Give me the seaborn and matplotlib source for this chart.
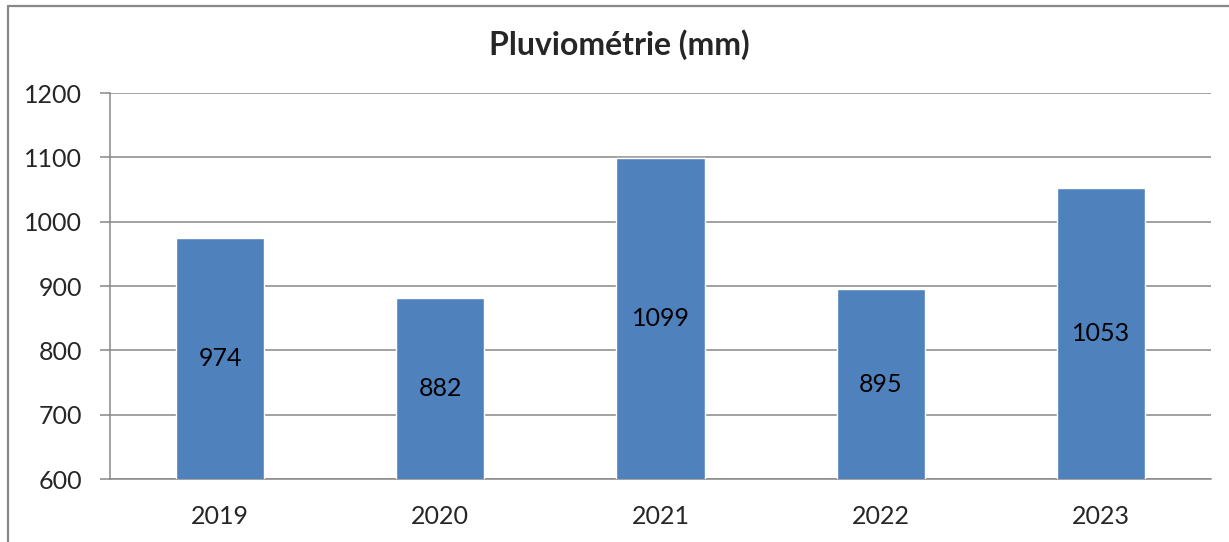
import matplotlib
matplotlib.use("Agg")
import matplotlib.pyplot as plt
import seaborn as sns
import pandas as pd
from matplotlib.lines import Line2D

years = ["2019", "2020", "2021", "2022", "2023"]
rain_mm = [974, 882, 1099, 895, 1053]
y_ticks = [600, 700, 800, 900, 1000, 1100, 1200]

df = pd.DataFrame({"year": years, "rain": rain_mm})

sns.set_style("white")
plt.rcParams['font.family'] = ['Lato', 'DejaVu Sans']

fig = plt.figure(figsize=(12.29, 5.42), dpi=100)
ax = fig.add_axes([0.0895, 0.1162, 0.8959, 0.7122])

grey = "#888888"
sns.barplot(data=df, x="year", y="rain", color="#4F81BD", width=0.4,
            saturation=1, ax=ax, zorder=3)

ax.set_ylim(y_ticks[0], y_ticks[-1])
ax.set_yticks(y_ticks)
ax.set_xlim(-0.5, len(years) - 0.5)
ax.yaxis.grid(True, color=grey, linewidth=1.1, zorder=0)
ax.set_axisbelow(True)

# category separators on the x axis
ax.set_xticks([i - 0.5 for i in range(len(years) + 1)], minor=True)
ax.tick_params(axis="x", which="minor", length=7, width=1.1, color=grey,
               direction="out")
ax.tick_params(axis="x", which="major", length=0, pad=19, labelsize=18)
ax.tick_params(axis="y", length=7, width=1.1, color=grey, direction="out",
               pad=13, labelsize=18, left=True)

for side in ["top", "right"]:
    ax.spines[side].set_visible(False)
for side in ["left", "bottom"]:
    ax.spines[side].set_color(grey)
    ax.spines[side].set_linewidth(1.1)

ax.set_xlabel("")
ax.set_ylabel("")

# value labels in the middle of the visible bar
for i, v in enumerate(rain_mm):
    ax.text(i, (y_ticks[0] + v) / 2, str(v), ha="center", va="center",
            fontsize=18, color="black", zorder=4)

fig.text(0.504, 0.917, "Pluviométrie (mm)", ha="center", va="center",
         fontsize=23, fontweight="bold")

# outer chart frame (top and left edges visible)
fig.add_artist(Line2D([0.0065, 1.0], [0.989, 0.989], color=grey, linewidth=1.6,
                      transform=fig.transFigure))
fig.add_artist(Line2D([0.0065, 0.0065], [0.0, 0.989], color=grey, linewidth=1.6,
                      transform=fig.transFigure))

fig.savefig("out.png", dpi=100)
plt.close(fig)
